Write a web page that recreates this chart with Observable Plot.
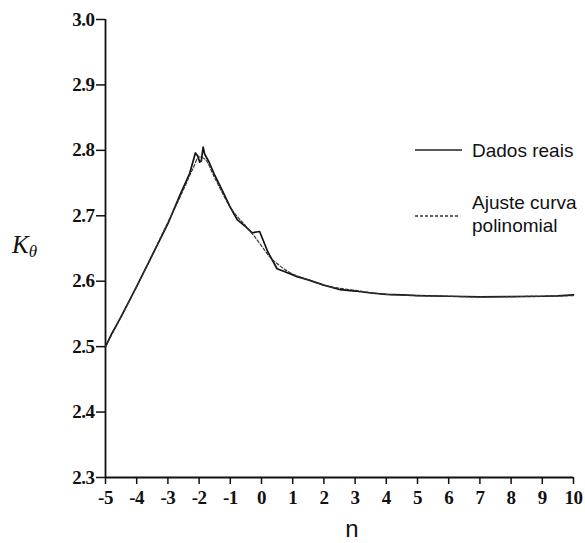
<!DOCTYPE html>
<html>
<head>
<meta charset="utf-8">
<script src="https://cdn.jsdelivr.net/npm/d3@7"></script>
<script src="https://cdn.jsdelivr.net/npm/@observablehq/plot@0.6"></script>
<style>
  html, body { margin: 0; padding: 0; background: #fff; }
  #chart svg { display: block; }
</style>
</head>
<body>
<div id="chart"></div>
<script>
// Dados reais
const realN = [-5, -4.8, -4.6, -4.5, -4, -3.5, -3, -2.6, -2.3, -2.12, -2.05, -1.98, -1.93, -1.87, -1.82, -1.69, -1.5, -1.25, -1.0, -0.78, -0.5, -0.3, -0.06, 0.2, 0.5, 0.77, 1.14, 1.5, 2, 2.53, 3, 3.5, 4, 4.5, 5, 6, 7, 8, 9, 9.5, 10];
const realK = [2.500, 2.520, 2.537, 2.546, 2.592, 2.640, 2.688, 2.733, 2.765, 2.796, 2.792, 2.782, 2.784, 2.805, 2.794, 2.783, 2.762, 2.738, 2.713, 2.694, 2.683, 2.674, 2.676, 2.645, 2.619, 2.614, 2.607, 2.602, 2.594, 2.587, 2.585, 2.582, 2.580, 2.579, 2.578, 2.577, 2.576, 2.5765, 2.577, 2.5775, 2.579];

// Ajuste curva polinomial
const fitN = [-5, -4, -3, -2.5, -2.2, -2.0, -1.8, -1.5, -1.0, -0.5, -0.25, 0, 0.25, 0.5, 0.75, 1.0, 1.5, 2, 3, 4, 5, 6, 7, 8, 9, 10];
const fitK = [2.500, 2.592, 2.690, 2.740, 2.772, 2.790, 2.786, 2.758, 2.713, 2.684, 2.670, 2.654, 2.638, 2.627, 2.618, 2.611, 2.602, 2.594, 2.586, 2.580, 2.578, 2.577, 2.576, 2.5765, 2.577, 2.578];

const xTicks = [-5, -4, -3, -2, -1, 0, 1, 2, 3, 4, 5, 6, 7, 8, 9, 10];
const yTicks = [2.3, 2.4, 2.5, 2.6, 2.7, 2.8, 2.9, 3.0];

const realData = realN.map((n, i) => ({n, k: realK[i]}));
const fitData = fitN.map((n, i) => ({n, k: fitK[i]}));

const plot = Plot.plot({
  width: 585,
  height: 543,
  marginLeft: 105,
  marginRight: 12,
  marginTop: 19,
  marginBottom: 66,
  style: {background: "#fff", color: "#111", overflow: "visible"},
  x: {domain: [-5, 10]},
  y: {domain: [2.3, 3.0]},
  marks: [
    Plot.axisY({ticks: yTicks, tickFormat: d => d.toFixed(1), tickSize: 9, tickPadding: 2, label: null, strokeWidth: 1.5}),
    Plot.axisX({ticks: xTicks, tickFormat: d => String(d), tickSize: 7, tickPadding: 6, label: null, strokeWidth: 1.5}),
    Plot.ruleX([-5], {stroke: "#111", strokeWidth: 1.8}),
    Plot.ruleY([2.3], {stroke: "#111", strokeWidth: 1.8}),
    Plot.line(realData, {x: "n", y: "k", stroke: "#111", strokeWidth: 1.7}),
    Plot.line(fitData, {x: "n", y: "k", stroke: "#333", strokeWidth: 1.2, strokeDasharray: "3,2", curve: "monotone-x"})
  ]
});

const svg = d3.select(plot);
// style tick labels (the only texts Plot draws here)
svg.selectAll("text")
  .style("font-family", "'Liberation Serif', serif")
  .style("font-weight", "bold")
  .style("font-size", "19px")
  .style("letter-spacing", "-0.5px");

// x axis label
svg.append("text").attr("x", 352).attr("y", 537).attr("text-anchor", "middle")
  .attr("font-family", "Liberation Sans, Arial, sans-serif").attr("font-size", 24).attr("fill", "#111").text("n");
// y axis label K_θ
const ky = svg.append("text").attr("x", 12).attr("y", 253).attr("text-anchor", "start")
  .attr("font-family", "Liberation Serif, serif").attr("font-style", "italic").attr("fill", "#111");
ky.append("tspan").attr("font-size", 25).text("K");
ky.append("tspan").attr("font-size", 17).attr("dy", 4).text("θ");

// legend
const lf = "Liberation Sans, Arial, sans-serif";
svg.append("line").attr("x1", 415).attr("x2", 462).attr("y1", 150).attr("y2", 150)
  .attr("stroke", "#222").attr("stroke-width", 1.5);
svg.append("text").attr("x", 472).attr("y", 157).attr("text-anchor", "start").attr("font-family", lf).attr("font-size", 19).attr("fill", "#111").text("Dados reais");
svg.append("line").attr("x1", 415).attr("x2", 460).attr("y1", 216).attr("y2", 216)
  .attr("stroke", "#333").attr("stroke-width", 1.3).attr("stroke-dasharray", "3,2");
svg.append("text").attr("x", 472).attr("y", 209).attr("text-anchor", "start").attr("font-family", lf).attr("font-size", 19).attr("fill", "#111").text("Ajuste curva");
svg.append("text").attr("x", 472).attr("y", 232).attr("text-anchor", "start").attr("font-family", lf).attr("font-size", 19).attr("fill", "#111").text("polinomial");

document.getElementById("chart").appendChild(plot);
</script>
</body>
</html>
